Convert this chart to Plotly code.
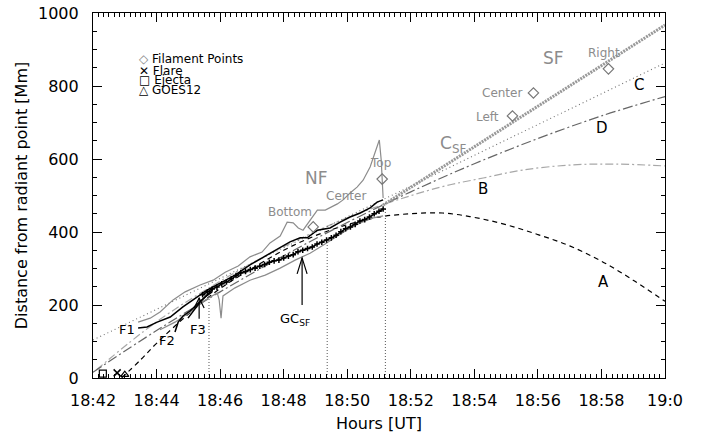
import plotly.graph_objects as go

# ---- time axis: minutes after 18:00 UT ----
tick_minutes = [42, 44, 46, 48, 50, 52, 54, 56, 58, 60]
tick_labels = ["18:42", "18:44", "18:46", "18:48", "18:50", "18:52", "18:54", "18:56", "18:58", "19:0"]

# ---- measured filament tracks (time [min], distance [Mm]) ----
top_t = [43.42, 43.80, 44.11, 44.52, 44.90, 45.37, 45.78, 46.16, 46.57, 46.94, 47.32, 47.57, 47.89,
         48.11, 48.30, 48.46, 48.61, 48.83, 49.06, 49.31, 49.46, 49.69, 49.87, 50.09, 50.31, 50.50,
         50.72, 50.88, 51.01, 51.07, 51.13]
top_v = [153, 164, 181, 214, 236, 255, 268, 290, 307, 332, 345, 370, 389,
         427, 425, 411, 405, 433, 460, 460, 466, 477, 488, 507, 523, 542,
         578, 619, 652, 597, 493]

bot_t = [44.11, 44.58, 45.06, 45.53, 45.91, 45.97, 46.03, 46.09, 46.47, 46.94, 47.42, 47.89, 48.36,
         48.83, 49.24, 49.62, 50.09, 50.47, 50.79, 51.13]
bot_v = [132, 153, 181, 214, 233, 214, 164, 225, 247, 268, 282, 301, 323,
         342, 364, 384, 411, 427, 438, 444]

mid_t = [43.42, 43.70, 44.02, 44.43, 44.83, 45.21, 45.59, 46.00, 46.47, 46.94, 47.32, 47.80, 48.20,
         48.52, 48.74, 49.06, 49.46, 49.78, 50.09, 50.41, 50.72, 50.94, 51.13]
mid_v = [137, 140, 153, 167, 195, 219, 241, 260, 282, 310, 329, 351, 373,
         384, 384, 405, 411, 427, 441, 452, 466, 482, 488]

f2_t = [44.58, 44.68, 44.83, 45.06, 45.31, 45.53, 45.75]
f2_v = [126, 153, 170, 184, 205, 222, 236]

f3_t = [44.99, 45.18, 45.37, 45.56, 45.75]
f3_v = [164, 186, 208, 225, 241]

# gravity centre of the southern filament
gc_t = [45.45, 45.60, 45.75, 45.90, 46.05, 46.20, 46.35, 46.50, 46.65, 46.80, 46.95, 47.10, 47.25,
        47.40, 47.55, 47.70, 47.85, 48.00, 48.15, 48.30, 48.45, 48.60, 48.75, 48.90, 49.05, 49.20,
        49.35, 49.50, 49.65, 49.80, 49.95, 50.10, 50.25, 50.40, 50.55, 50.70, 50.85, 51.00, 51.13]
gc_v = [228, 236, 244, 249, 258, 263, 272, 281, 288, 292, 297, 301, 306,
        311, 317, 321, 323, 329, 334, 338, 346, 350, 355, 359, 367, 372,
        378, 384, 391, 401, 409, 414, 421, 430, 434, 441, 450, 457, 463]

# reference times (vertical dotted lines)
mark_t = [45.65, 49.37, 51.20]
mark_v = [238, 380, 466]

# ---- extrapolations ----
a_t = [42.9, 43.5, 44.0, 45.0, 46.0, 47.0, 48.0, 49.0, 50.0, 51.0, 52.0, 53.0, 54.0, 55.0, 56.0, 57.0, 58.0, 59.0, 60.0]
a_v = [0, 50, 95, 175, 245, 300, 350, 390, 420, 441, 450, 452, 440, 420, 393, 362, 320, 268, 210]

b_t = [42.1, 44.0, 46.0, 48.0, 50.0, 51.13, 52.93, 54.28, 55.54, 57.12, 58.5, 60.0]
b_v = [22, 154, 265, 360, 439, 475, 523, 548, 570, 584, 586, 581]

c_t = [42.0, 60.0]
c_v = [104, 863]

d_t = [42.0, 44.0, 46.0, 48.0, 50.0, 52.0, 54.0, 56.0, 58.0, 60.0]
d_v = [16, 130, 236, 335, 426, 510, 587, 656, 718, 771]

sf_t = [51.13, 60.0]
sf_v = [474, 967]

# ---- filament reference points ----
nf_pts_t = [48.93, 51.10]
nf_pts_v = [414, 545]
sf_pts_t = [55.20, 55.86, 58.22]
sf_pts_v = [718, 781, 847]

# flare / ejecta / GOES onset
flare_t, flare_v = [42.76], [14]
ejecta_t, ejecta_v = [42.31], [12]
goes_t, goes_v = [43.00], [9]

GRAY = "#8c8c8c"
LGRAY = "#a8a8a8"
FONT = "DejaVu Sans"

fig = go.Figure()


def line(x, y, color, width=1, dash="solid", **kw):
    fig.add_trace(go.Scatter(x=x, y=y, mode="lines", line=dict(color=color, width=width, dash=dash),
                             hoverinfo="skip", showlegend=False, **kw))


# fits
line(a_t, a_v, "black", 1.2, "5px,4px", line_shape="spline")
line(b_t, b_v, LGRAY, 1.2, "8px,3px,2px,3px", line_shape="spline")
line(c_t, c_v, "#707070", 1.1, "1px,3px")
line(d_t, d_v, "#666666", 1.2, "10px,3px,2px,3px", line_shape="spline")
line(sf_t, sf_v, "#999999", 3, "2px,1px")

# vertical dotted time marks
for t, v in zip(mark_t, mark_v):
    line([t, t], [0, v], "#555555", 1, "1px,2px")

# tracks
line(top_t, top_v, GRAY, 1.2)
line(bot_t, bot_v, GRAY, 1.2)
line(mid_t, mid_v, "black", 1.5)
line(f2_t, f2_v, "black", 1.5)
line(f3_t, f3_v, "black", 1.5)
fig.add_trace(go.Scatter(x=gc_t, y=gc_v, mode="lines+markers",
                         line=dict(color="black", width=1.5),
                         marker=dict(symbol="cross-thin-open", size=4, line=dict(color="black", width=1.5)),
                         hoverinfo="skip", showlegend=False))

# filament points
fig.add_trace(go.Scatter(x=nf_pts_t + sf_pts_t, y=nf_pts_v + sf_pts_v, mode="markers",
                         marker=dict(symbol="diamond-open", size=8, color="#777777", line=dict(width=1.2)),
                         hoverinfo="skip", showlegend=False))

# onset markers
fig.add_trace(go.Scatter(x=ejecta_t, y=ejecta_v, mode="markers", cliponaxis=False,
                         marker=dict(symbol="square-open", size=7, color="black", line=dict(width=1.2)),
                         hoverinfo="skip", showlegend=False))
fig.add_trace(go.Scatter(x=flare_t, y=flare_v, mode="markers", cliponaxis=False,
                         marker=dict(symbol="x-thin-open", size=7, color="black", line=dict(width=1.5)),
                         hoverinfo="skip", showlegend=False))
fig.add_trace(go.Scatter(x=goes_t, y=goes_v, mode="markers", cliponaxis=False,
                         marker=dict(symbol="triangle-up-open", size=7, color="black", line=dict(width=1.2)),
                         hoverinfo="skip", showlegend=False))

ann = []


def label(x, y, text, size=13, color="black", xanchor="center"):
    ann.append(dict(x=x, y=y, text=text, showarrow=False, xanchor=xanchor, yanchor="middle",
                    font=dict(family=FONT, size=size, color=color)))


label(49.02, 548, "NF", 17, GRAY)
label(48.20, 455, "Bottom", 12, GRAY)
label(49.97, 499, "Center", 12, GRAY)
label(51.04, 589, "Top", 12, GRAY)
label(56.49, 877, "SF", 17, GRAY)
label(58.09, 890, "Right", 12, GRAY)
label(54.88, 781, "Center", 12, GRAY)
label(54.41, 715, "Left", 12, GRAY)
label(53.34, 640, "C<sub>SF</sub>", 17, GRAY)
label(59.17, 803, "C", 15)
label(58.03, 685, "D", 15)
label(54.28, 518, "B", 15)
label(58.06, 263, "A", 15)
label(43.07, 134, "F1", 13)
label(44.33, 104, "F2", 13)
label(45.31, 132, "F3", 13)
label(48.36, 159, "GC<sub>SF</sub>", 13)

# key
key_rows = [(874, "<span style='color:#888888'>◇</span> Filament Points"),
            (841, "✕ Flare"),
            (816, "□ Ejecta"),
            (789, "△ GOES12")]
for yv, txt in key_rows:
    label(43.38, yv, txt, 12, xanchor="left")

# arrows: shaft + open head
shapes = []
for xa, y0, y1, h in [(48.58, 200, 329, 16), (45.34, 162, 219, 10)]:
    shapes.append(dict(type="line", xref="x", yref="y", x0=xa, x1=xa, y0=y0, y1=y1,
                       line=dict(color="black", width=1.2)))
    shapes.append(dict(type="path", xref="x", yref="y", xsizemode="pixel", ysizemode="pixel",
                       xanchor=xa, yanchor=y1, path=f"M -5,-{h} L 0,0 L 5,-{h}",
                       line=dict(color="black", width=1.2)))

fig.update_layout(
    width=701, height=437,
    margin=dict(l=93, r=36, t=13, b=59),
    plot_bgcolor="white", paper_bgcolor="white",
    annotations=ann, shapes=shapes,
    font=dict(family=FONT, color="black"),
    xaxis=dict(range=[42, 60], tickmode="array", tickvals=tick_minutes, ticktext=tick_labels,
               ticks="inside", ticklen=9, tickwidth=1, tickcolor="black", automargin=False,
               showline=True, linecolor="black", linewidth=1.2, mirror="allticks",
               showgrid=False, zeroline=False, ticklabelstandoff=8,
               tickfont=dict(size=16, family=FONT),
               minor=dict(tickmode="linear", tick0=42, dtick=1 / 6, ticks="inside", ticklen=4,
                          tickcolor="black", showgrid=False),
               title=dict(text="Hours [UT]", font=dict(size=16, family=FONT), standoff=8)),
    yaxis=dict(range=[0, 1000], tickmode="linear", tick0=0, dtick=200,
               ticks="inside", ticklen=9, tickwidth=1, tickcolor="black", automargin=False,
               showline=True, linecolor="black", linewidth=1.2, mirror="allticks",
               showgrid=False, zeroline=False, ticklabelstandoff=10,
               tickfont=dict(size=16, family=FONT),
               minor=dict(tickmode="linear", tick0=0, dtick=50, ticks="inside", ticklen=4,
                          tickcolor="black", showgrid=False),
               title=dict(text="Distance from radiant point [Mm]", font=dict(size=16, family=FONT),
                          standoff=6)),
)

fig.write_html("out.html", config={"displayModeBar": False})
